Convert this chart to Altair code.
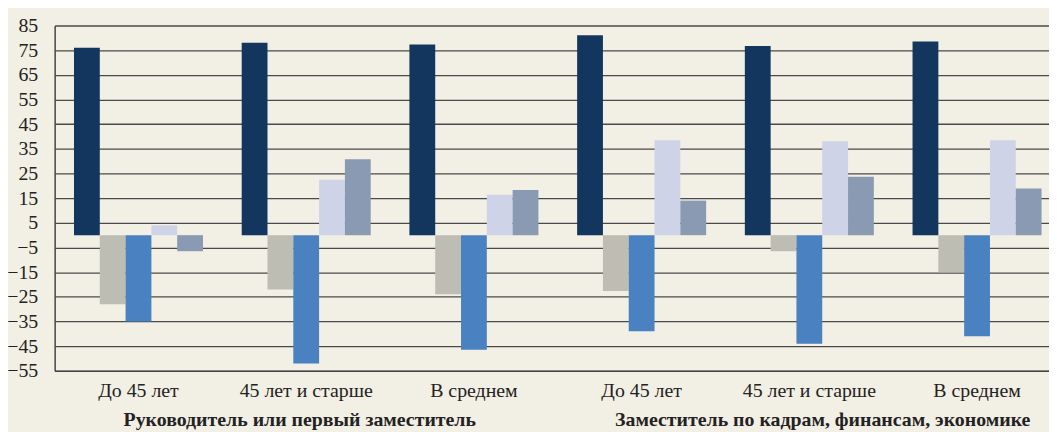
import altair as alt
import pandas as pd

groups = ["Руководитель или первый заместитель"] * 3 + ["Заместитель по кадрам, финансам, экономике"] * 3
ages = ["До 45 лет", "45 лет и старше", "В среднем", "До 45 лет", "45 лет и старше", "В среднем"]
series_names = ["Серия 1", "Серия 2", "Серия 3", "Серия 4", "Серия 5"]
s1 = [76, 78, 77.3, 81, 76.7, 78.5]
s2 = [-28, -22, -24, -22.6, -6.5, -15]
s3 = [-35, -52, -46.5, -39, -44, -41]
s4 = [4, 22.5, 16.4, 38.5, 38.1, 38.5]
s5 = [-6.5, 30.8, 18.3, 14, 23.7, 18.9]
colors = ["#13365E", "#BDBDB4", "#4A81C1", "#CED3E8", "#8A9AB3"]
y_ticks = list(range(-55, 86, 10))
group_titles = ["Руководитель или первый заместитель", "Заместитель по кадрам, финансам, экономике"]

rows = []
for i in range(6):
    key = f"{i}|{ages[i]}"
    for name, vals in zip(series_names, [s1, s2, s3, s4, s5]):
        rows.append({"key": key, "series": name, "value": vals[i]})
df = pd.DataFrame(rows)
keys = [f"{i}|{ages[i]}" for i in range(6)]

FONT = "Liberation Serif"

bars = alt.Chart(df).mark_bar().encode(
    x=alt.X("key:N", sort=keys, title=None,
            scale=alt.Scale(range=[0, 1014], paddingInner=0.2308, paddingOuter=0.1154),
            axis=alt.Axis(labelExpr="split(datum.value, '|')[1]", labelAngle=0,
                          ticks=False, tickSize=0,
                          domain=True, domainColor="#444", domainWidth=1.5,
                          labelFont=FONT, labelFontSize=20, labelColor="#222",
                          labelPadding=10, grid=False)),
    xOffset=alt.XOffset("series:N", sort=series_names),
    y=alt.Y("value:Q", title=None,
            scale=alt.Scale(domain=[-55, 85], nice=False, zero=False),
            axis=alt.Axis(values=y_ticks, ticks=False, tickSize=0, labelPadding=17,
                          domain=True, domainColor="#444", domainWidth=1.5,
                          grid=True, gridColor="#4a4a4a", gridWidth=1.3,
                          labelFont=FONT, labelFontSize=20, labelColor="#222")),
    color=alt.Color("series:N", sort=series_names,
                    scale=alt.Scale(domain=series_names, range=colors), legend=None),
)

titles_df = pd.DataFrame({"t": group_titles, "px": [247, 774]})
titles = alt.Chart(titles_df).mark_text(
    font=FONT, fontSize=20, fontWeight="bold", color="#222", baseline="alphabetic", align="center"
).encode(
    text="t:N",
    x=alt.X("px:Q", scale=None),
    y=alt.value(404),
)

chart = alt.layer(bars, titles).resolve_scale(x="independent").properties(
    width=1002, height=348,
    autosize=alt.AutoSizeParams(type="none"),
    padding={"left": 47, "top": 16, "right": 0, "bottom": 60},
    background="#F2EFE4",
).configure_view(stroke=None)

chart.save("out.html", embed_options={"renderer": "svg", "actions": False})
